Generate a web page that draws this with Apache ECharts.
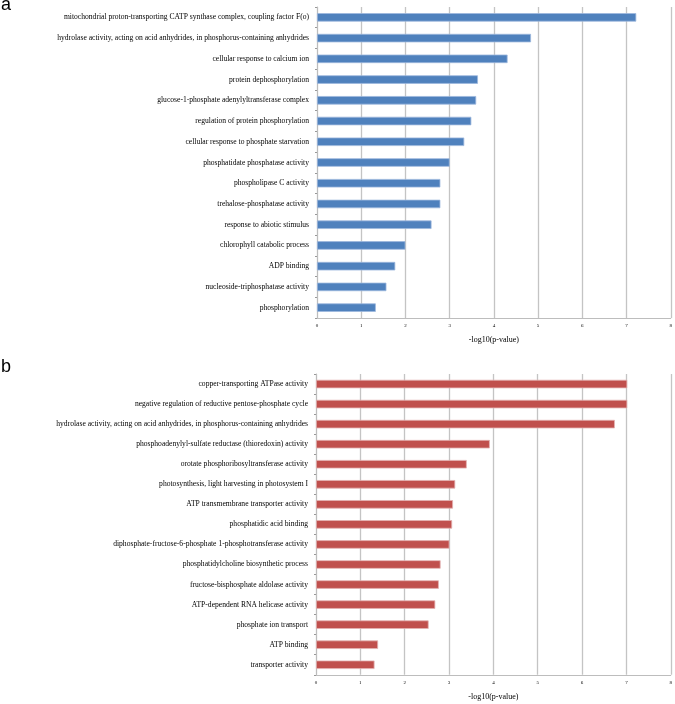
<html>
<head>
    <script src="https://cdn.jsdelivr.net/npm/echarts@6/dist/echarts.min.js"></script>
    <style>
        body { margin: 0; background: #fff; }
        #chart { width: 675px; height: 704px; }
    </style>
</head>
<body>
    <div id="chart"></div>
    <script>
        // panel a, top to bottom
        var termsA = [
            'mitochondrial proton-transporting CATP synthase complex, coupling factor F(o)',
            'hydrolase activity, acting on acid anhydrides, in phosphorus-containing anhydrides',
            'cellular response to calcium ion',
            'protein dephosphorylation',
            'glucose-1-phosphate adenylyltransferase complex',
            'regulation of protein phosphorylation',
            'cellular response to phosphate starvation',
            'phosphatidate phosphatase activity',
            'phospholipase C activity',
            'trehalose-phosphatase activity',
            'response to abiotic stimulus',
            'chlorophyll catabolic process',
            'ADP binding',
            'nucleoside-triphosphatase activity',
            'phosphorylation'
        ];
        var valuesA = [7.22, 4.84, 4.31, 3.64, 3.60, 3.49, 3.33, 3.0, 2.79, 2.79, 2.59, 2.0, 1.77, 1.57, 1.33];

        // panel b, top to bottom
        var termsB = [
            'copper-transporting ATPase activity',
            'negative regulation of reductive pentose-phosphate cycle',
            'hydrolase activity, acting on acid anhydrides, in phosphorus-containing anhydrides',
            'phosphoadenylyl-sulfate reductase (thioredoxin) activity',
            'orotate phosphoribosyltransferase activity',
            'photosynthesis, light harvesting in photosystem I',
            'ATP transmembrane transporter activity',
            'phosphatidic acid binding',
            'diphosphate-fructose-6-phosphate 1-phosphotransferase activity',
            'phosphatidylcholine biosynthetic process',
            'fructose-bisphosphate aldolase activity',
            'ATP-dependent RNA helicase activity',
            'phosphate ion transport',
            'ATP binding',
            'transporter activity'
        ];
        var valuesB = [7.02, 7.02, 6.74, 3.92, 3.40, 3.14, 3.09, 3.07, 3.01, 2.81, 2.77, 2.69, 2.54, 1.40, 1.32];

        var xTicks = [0, 1, 2, 3, 4, 5, 6, 7, 8];
        var xTitle = '-log10(p-value)';

        var serif = '"Liberation Serif", "DejaVu Serif", serif';

        function xAxisFor(idx) {
            return {
                type: 'value', gridIndex: idx, min: xTicks[0], max: xTicks[xTicks.length - 1], interval: 1,
                name: xTitle, nameLocation: 'middle', nameGap: 16,
                nameTextStyle: { fontFamily: serif, fontSize: 8, color: '#000' },
                axisLine: { show: true, lineStyle: { color: '#bdbdbd', width: 1 } },
                axisTick: { show: false },
                axisLabel: { fontFamily: serif, fontSize: 5, color: '#000', margin: 4 },
                splitLine: { show: true, lineStyle: { color: '#c4c4c4', width: 1.3 } }
            };
        }

        function yAxisFor(idx, terms) {
            return {
                type: 'category', gridIndex: idx, data: terms, inverse: true,
                axisLine: { show: true, lineStyle: { color: '#bdbdbd', width: 1 } },
                axisTick: { show: true, length: 2, lineStyle: { color: '#999' } },
                axisLabel: { fontFamily: serif, fontSize: 7.6, color: '#000', margin: 8 }
            };
        }

        var chart = echarts.init(document.getElementById('chart'), null, { renderer: 'canvas' });
        chart.setOption({
            animation: false,
            backgroundColor: '#fff',
            title: [
                { text: 'a', left: -4, top: -15, textStyle: { fontFamily: 'Liberation Sans', fontSize: 18, fontWeight: 'normal', color: '#000' } },
                { text: 'b', left: -4, top: 347, textStyle: { fontFamily: 'Liberation Sans', fontSize: 18, fontWeight: 'normal', color: '#000' } }
            ],
            grid: [
                { left: 317, right: 2, top: 7, height: 311 },
                { left: 316, right: 3, top: 374, height: 310 }
            ],
            xAxis: [xAxisFor(0), xAxisFor(1)],
            yAxis: [yAxisFor(0, termsA), yAxisFor(1, termsB)],
            series: [
                {
                    type: 'bar', xAxisIndex: 0, yAxisIndex: 0, data: valuesA, barWidth: 8.5,
                    itemStyle: { color: '#4f81bd', borderColor: '#9db7dd', borderWidth: 0.8 }
                },
                {
                    type: 'bar', xAxisIndex: 1, yAxisIndex: 1, data: valuesB, barWidth: 8.5,
                    itemStyle: { color: '#c0504d', borderColor: '#e3b3b2', borderWidth: 0.8 }
                }
            ]
        });
    </script>
</body>
</html>
